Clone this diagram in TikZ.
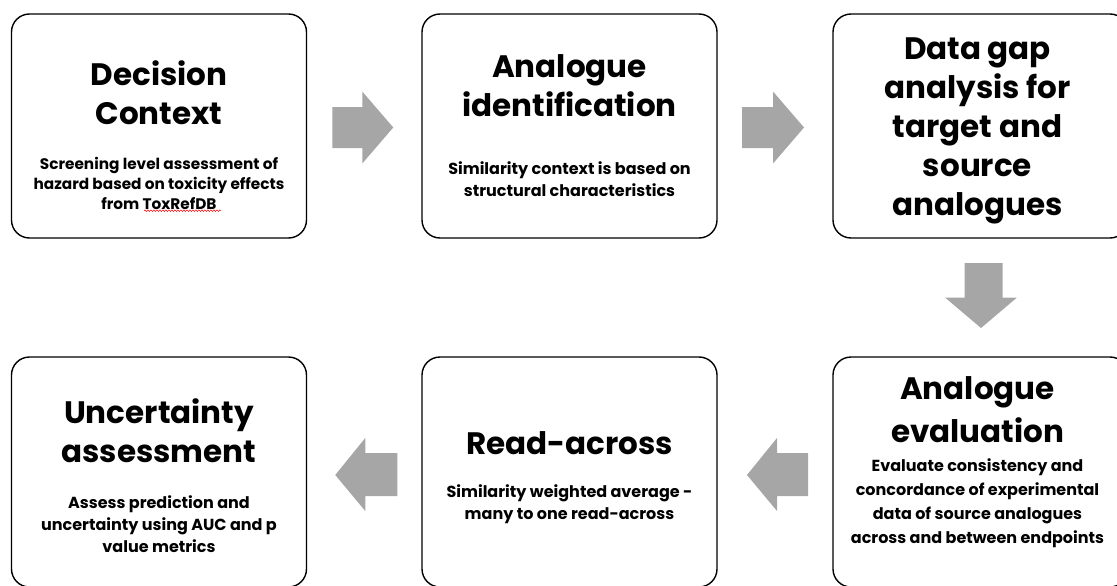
\documentclass[tikz,border=0pt]{standalone}
\usepackage{fontspec}
\setmainfont{Poppins}
\usetikzlibrary{calc,decorations.pathmorphing}
\definecolor{arrowgray}{HTML}{A6A6A6}
\newcommand\fixspace{\spaceskip=\fontdimen2\font\xspaceskip=\fontdimen2\font}
\newcommand\titlefont{\fontsize{31}{39}\selectfont\bfseries\fixspace}
\newcommand\subfont{\fontsize{16}{22}\selectfont\bfseries\fixspace}
\newcommand\steptext[3]{{\titlefont #1\par}\vspace{#2}{\subfont #3\par}}
\begin{document}
\begin{tikzpicture}[x=1pt,y=-1pt,
  box/.style={draw=black, line width=1.4pt, rounded corners=18pt, minimum width=295pt, minimum height=224pt, inner sep=0pt, fill=white},
  lbl/.style={text width=292pt, align=center, inner sep=0pt},
  blk/.style={fill=arrowgray, draw=none},
  spell/.style={draw=red, line width=0.5pt, decorate, decoration={snake, amplitude=0.8pt, segment length=3pt}}]
\useasboundingbox (0,0) rectangle (1117,586);
% boxes
\node[box] (b1) at (159,126) {};
\node[box] (b2) at (569.5,126) {};
\node[box] (b3) at (980.5,126) {};
\node[box, minimum height=230pt] (b4) at (159,472) {};
\node[box, minimum height=230pt] (b5) at (569.5,472) {};
\node[box, minimum height=230pt] (b6) at (980.5,472) {};
% texts
\node[lbl] (t1) at ($(b1.center)+(0,9)$) {\steptext{Decision\\Context}{25pt}{\fontsize{15.3}{20}\selectfont\fixspace Screening level assessment of\\hazard based on toxicity effects\\from ToxRefDB}};
\node[lbl] (t2) at ($(b2.center)+(0,0)$) {\steptext{Analogue\\identification}{36pt}{Similarity context is based on\\structural characteristics}};
\node[lbl] (t3) at ($(b3.center)+(-3,5)$) {{\titlefont Data gap\\analysis for\\target and\\source\\analogues\par}};
\node[lbl] (t4) at ($(b4.center)+(0,3.5)$) {\steptext{Uncertainty\\assessment}{24pt}{Assess prediction and\\uncertainty using AUC and p\\value metrics}};
\node[lbl] (t5) at ($(b5.center)+(0,5.5)$) {\steptext{Read-across}{21pt}{Similarity weighted average -\\many to one read-across}};
\node[lbl] (t6) at ($(b6.center)+(-3,-10)$) {\steptext{\fontsize{31}{43}\selectfont\fixspace Analogue\\evaluation}{5pt}{\fontsize{16}{24}\selectfont\fixspace Evaluate consistency and\\concordance of experimental\\data of source analogues\\across and between endpoints}};
% spell-check underline
\coordinate (w1) at ($(t1.south)+(-15,1)$);
\coordinate (w2) at ($(t1.south)+(62,1)$);
\draw[spell] (w1) -- (w2);
% block arrows
\coordinate (m12) at ($(b1.east)!0.5!(b2.west)$);
\coordinate (m23) at ($(b2.east)!0.5!(b3.west)$);
\coordinate (m36) at ($(b3.south)!0.5!(b6.north)$);
\coordinate (m45) at ($(b4.east)!0.5!(b5.west)$);
\coordinate (m56) at ($(b5.east)!0.5!(b6.west)$);
\fill[blk, shift={(m12)}] (-32,-19) -- (-2,-19) -- (-2,-34.5) -- (29,1.5) -- (-2,37.5) -- (-2,22) -- (-32,22) -- cycle;
\fill[blk, shift={(m23)}] (-33,-19) -- (-2,-19) -- (-2,-34.5) -- (29,1.5) -- (-2,37.5) -- (-2,22) -- (-33,22) -- cycle;
\fill[blk, shift={(m36)}] (-16,-34.5) -- (22,-34.5) -- (22,0) -- (36.5,0) -- (0.5,30.5) -- (-35.5,0) -- (-16,0) -- cycle;
\fill[blk, shift={(m45)}] (33,-19) -- (1,-19) -- (1,-34) -- (-29,3) -- (1,39) -- (1,24) -- (33,24) -- cycle;
\fill[blk, shift={(m56)}] (33,-19) -- (2,-19) -- (2,-34) -- (-28,3) -- (2,39) -- (2,24) -- (33,24) -- cycle;
\end{tikzpicture}
\end{document}
